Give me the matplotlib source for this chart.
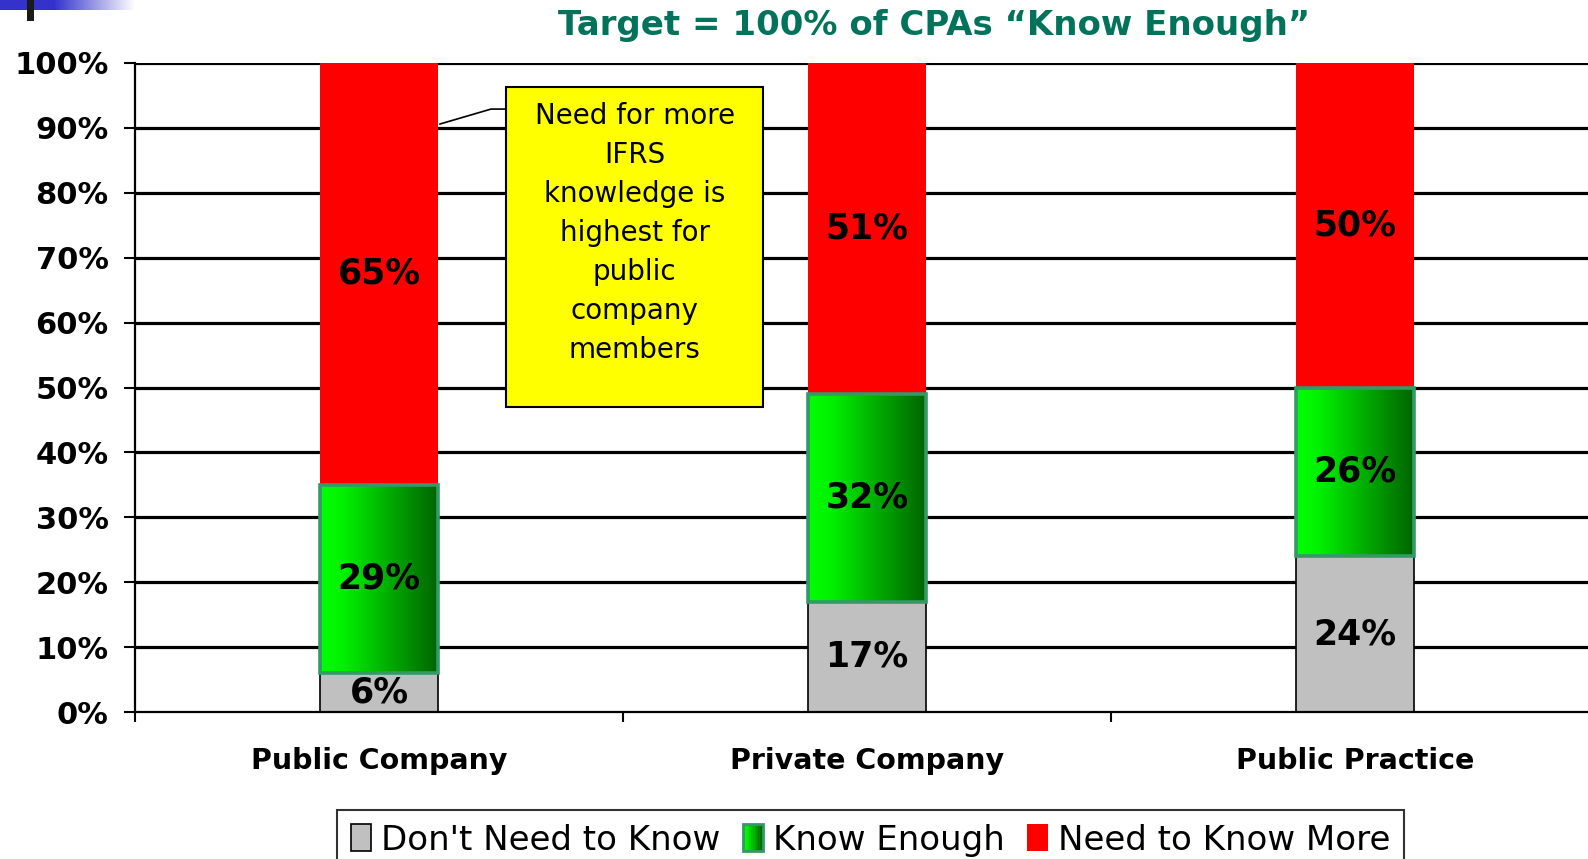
import numpy as np
import matplotlib
matplotlib.use("Agg")
import matplotlib.pyplot as plt
from matplotlib.patches import Rectangle, Patch
from matplotlib.colors import LinearSegmentedColormap
from matplotlib.legend_handler import HandlerBase

categories = ["Public Company", "Private Company", "Public Practice"]
dont_need = [6, 17, 24]
know_enough = [29, 32, 26]
need_more = [65, 51, 50]
series_names = ["Don't Need to Know", "Know Enough", "Need to Know More"]
yticks = [0, 10, 20, 30, 40, 50, 60, 70, 80, 90, 100]
title = "Target = 100% of CPAs \u201cKnow Enough\u201d"
note = "Need for more\nIFRS\nknowledge is\nhighest for\npublic\ncompany\nmembers"

GRAY = "#C0C0C0"
RED = "#FF0000"
GREEN_EDGE = "#339966"
green_cmap = LinearSegmentedColormap.from_list("g", [(0, "#00FF00"), (0.2, "#00F000"), (1, "#006400")])

W, H = 1588, 859
fig = plt.figure(figsize=(W / 100, H / 100), dpi=100)
fig.patch.set_facecolor("white")

left_px, right_px, top_px, bot_px = 135, 135 + 1464, 63, 712
ax = fig.add_axes([left_px / W, (H - bot_px) / H, (right_px - left_px) / W, (bot_px - top_px) / H])

x = np.arange(len(categories))
bw = 0.24
b1 = ax.bar(x, dont_need, bw, color=GRAY, edgecolor="black", linewidth=1.2, zorder=2)
base2 = np.array(dont_need)
b2 = ax.bar(x, know_enough, bw, bottom=base2, color="#00FF00", edgecolor="none", zorder=2)
base3 = base2 + np.array(know_enough)
b3 = ax.bar(x, need_more, bw, bottom=base3, color=RED, edgecolor="none", linewidth=0, zorder=2)

grad = np.linspace(0, 1, 256).reshape(1, -1)
for r in b2:
    x0, y0, w, h = r.get_x(), r.get_y(), r.get_width(), r.get_height()
    ax.imshow(grad, cmap=green_cmap, extent=[x0, x0 + w, y0, y0 + h], aspect="auto",
              zorder=2.1, interpolation="bilinear")
    ax.add_patch(Rectangle((x0, y0), w, h, facecolor="none", edgecolor=GREEN_EDGE,
                           linewidth=2.6, zorder=2.2))

# labels
for i in range(len(categories)):
    ax.text(x[i], dont_need[i] / 2, f"{dont_need[i]}%", ha="center", va="center",
            fontsize=25, fontweight="bold", zorder=5)
    ax.text(x[i], base2[i] + know_enough[i] / 2, f"{know_enough[i]}%", ha="center", va="center",
            fontsize=25, fontweight="bold", zorder=5)
    ax.text(x[i], base3[i] + need_more[i] / 2, f"{need_more[i]}%", ha="center", va="center",
            fontsize=25, fontweight="bold", zorder=5)

ax.set_xlim(-0.5, 2.5)
ax.set_ylim(0, 100)
ax.set_yticks(yticks)
ax.set_yticklabels([f"{t}%" for t in yticks], fontsize=22, fontweight="bold")
for t in yticks[1:]:
    ax.axhline(t, color="black", linewidth=2.3, zorder=1)

ax.set_xticks(x)
ax.set_xticklabels(categories, fontsize=20.5, fontweight="bold")
ax.tick_params(axis="x", which="major", length=0, pad=25)
ax.set_xticks([-0.5, 0.5, 1.5], minor=True)
ax.tick_params(axis="x", which="minor", length=7, width=1.5, direction="out")
ax.tick_params(axis="y", length=8, width=1.5, direction="out", pad=11)
for s in ["top", "right"]:
    ax.spines[s].set_visible(False)
ax.spines["left"].set_linewidth(1.6)
ax.spines["bottom"].set_linewidth(1.6)

# annotation box
ax.add_patch(Rectangle((0.260, 47.0), 0.527, 49.3, facecolor="#FFFF00", edgecolor="black",
                       linewidth=1.5, zorder=4))
ax.text(0.524, 73.8, note, ha="center", va="center", fontsize=20, linespacing=1.5, zorder=5)
ax.plot([0.125, 0.2295, 0.258], [90.6, 92.9, 92.9], color="black", linewidth=1.2, zorder=4,
        clip_on=False)

# title
fig.text(934 / W, 1 - 25 / H, title, ha="center", va="center", fontsize=24.5,
         fontweight="bold", color="#00735A")

# legend
class GradHandler(HandlerBase):
    def create_artists(self, legend, orig_handle, xdescent, ydescent, width, height, fontsize, trans):
        arts = []
        n = 12
        for i in range(n):
            arts.append(Rectangle((-xdescent + width * i / n, -ydescent), width / n + 0.3, height,
                                  facecolor=green_cmap(i / (n - 1)), edgecolor="none", transform=trans))
        arts.append(Rectangle((-xdescent, -ydescent), width, height, facecolor="none",
                              edgecolor=GREEN_EDGE, linewidth=2, transform=trans))
        return arts

h1 = Patch(facecolor=GRAY, edgecolor="black", linewidth=1.2)
h2 = Patch(facecolor="#00FF00", edgecolor=GREEN_EDGE)
h3 = Patch(facecolor=RED, edgecolor="none")
leg = fig.legend([h1, h2, h3], series_names, loc="upper left",
                 bbox_to_anchor=(337 / W, (H - 810) / H), ncol=3, frameon=True, fancybox=False,
                 prop={"size": 24.5}, handlelength=0.6, handleheight=0.85, handletextpad=0.3,
                 columnspacing=0.65, borderpad=0.4, borderaxespad=0,
                 handler_map={h2: GradHandler()})
leg.get_frame().set_edgecolor("black")
leg.get_frame().set_linewidth(1.5)

# top-left decoration
dax = fig.add_axes([0, 1 - 10 / H, 135 / W, 10 / H])
blue_cmap = LinearSegmentedColormap.from_list("b", [(0, "#3333CC"), (0.4, "#3333CC"), (1, "#FFFFFF")])
dax.imshow(grad, cmap=blue_cmap, aspect="auto", extent=[0, 1, 0, 1])
dax.set_axis_off()
fig.patches.append(Rectangle((27 / W, 1 - 21 / H), 7 / W, 21 / H, facecolor="#1A1A1A",
                             edgecolor="none", transform=fig.transFigure, figure=fig, zorder=10))

fig.savefig("out.png", dpi=100)
